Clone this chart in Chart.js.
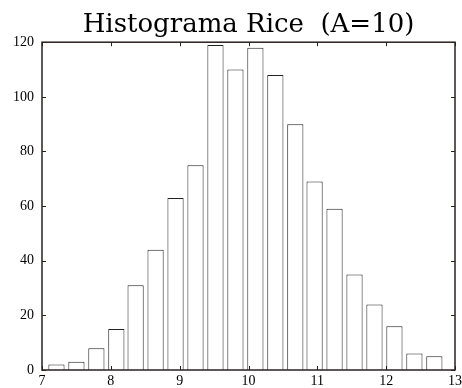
<!DOCTYPE html>
<html>
<head>
<meta charset="utf-8">
<script src="https://cdn.jsdelivr.net/npm/chart.js@4"></script>
<style>
  html, body { margin: 0; padding: 0; background: #fff; }
  #wrap { width: 462px; height: 388px; }
</style>
</head>
<body>
<div id="wrap"><canvas id="hist"></canvas></div>
<script>
// centros das classes e contagens
const binCenters = [7.21, 7.50, 7.79, 8.08, 8.36, 8.65, 8.94, 9.23, 9.52, 9.81,
                    10.10, 10.39, 10.68, 10.96, 11.25, 11.54, 11.83, 12.12, 12.41, 12.70];
const counts = [2, 3, 8, 15, 31, 44, 63, 75, 119, 110, 118, 108, 90, 69, 59, 35, 24, 16, 6, 5];
const xTicks = [7, 8, 9, 10, 11, 12, 13];
const yTicks = [0, 20, 40, 60, 80, 100, 120];

const axisColor = '#2b2020';
const serif = "'Liberation Serif', 'DejaVu Serif', serif";

// moldura e marcas para dentro (como no matlab)
const frameTicks = {
    id: 'frameTicks',
    afterDatasetsDraw(chart) {
        const { ctx, chartArea: a, scales } = chart;
        ctx.save();
        ctx.strokeStyle = axisColor;
        ctx.lineWidth = 1;
        ctx.beginPath();
        xTicks.forEach(v => {
            const px = Math.round(scales.x.getPixelForValue(v)) + 0.5;
            ctx.moveTo(px, a.bottom); ctx.lineTo(px, a.bottom - 4);
            ctx.moveTo(px, a.top); ctx.lineTo(px, a.top + 4);
        });
        yTicks.forEach(v => {
            const py = Math.round(scales.y.getPixelForValue(v)) + 0.5;
            ctx.moveTo(a.left, py); ctx.lineTo(a.left + 4, py);
            ctx.moveTo(a.right, py); ctx.lineTo(a.right - 4, py);
        });
        ctx.stroke();
        ctx.lineWidth = 1.5;
        ctx.strokeRect(a.left, a.top, a.right - a.left, a.bottom - a.top);
        ctx.restore();
    }
};

new Chart(document.getElementById('hist'), {
    type: 'bar',
    data: {
        datasets: [{
            data: binCenters.map((c, i) => ({ x: c, y: counts[i] })),
            backgroundColor: '#ffffff',
            borderColor: '#222222',
            borderWidth: 1,
            barPercentage: 0.84,
            categoryPercentage: 1.0
        }]
    },
    options: {
        responsive: true,
        maintainAspectRatio: false,
        animation: false,
        layout: { padding: { left: 0, right: 7, top: 0, bottom: 0 } },
        plugins: {
            legend: { display: false },
            tooltip: { enabled: false },
            title: {
                display: true,
                fullSize: false,
                text: 'Histograma Rice  (A=10)',
                color: '#000',
                font: { family: "'DejaVu Serif', serif", size: 26, weight: 'normal' },
                padding: { top: 10, bottom: 1 }
            }
        },
        scales: {
            x: {
                type: 'linear',
                min: 7,
                max: 13,
                offset: false,
                grid: { display: false, offset: false, drawTicks: false },
                border: { display: false },
                afterBuildTicks: s => { s.ticks = xTicks.map(v => ({ value: v })); },
                afterFit: s => { s.height = 18; s.paddingLeft = 0; s.paddingRight = 0; },
                ticks: { color: '#000', padding: 3, maxRotation: 0, font: { family: serif, size: 14 } }
            },
            y: {
                min: 0,
                max: 120,
                grid: { display: false, drawTicks: false },
                border: { display: false },
                afterBuildTicks: s => { s.ticks = yTicks.map(v => ({ value: v })); },
                afterFit: s => { s.width = 42; s.paddingTop = 0; s.paddingBottom = 0; },
                ticks: { color: '#000', padding: 8, font: { family: serif, size: 14 } }
            }
        }
    },
    plugins: [frameTicks]
});
</script>
</body>
</html>
